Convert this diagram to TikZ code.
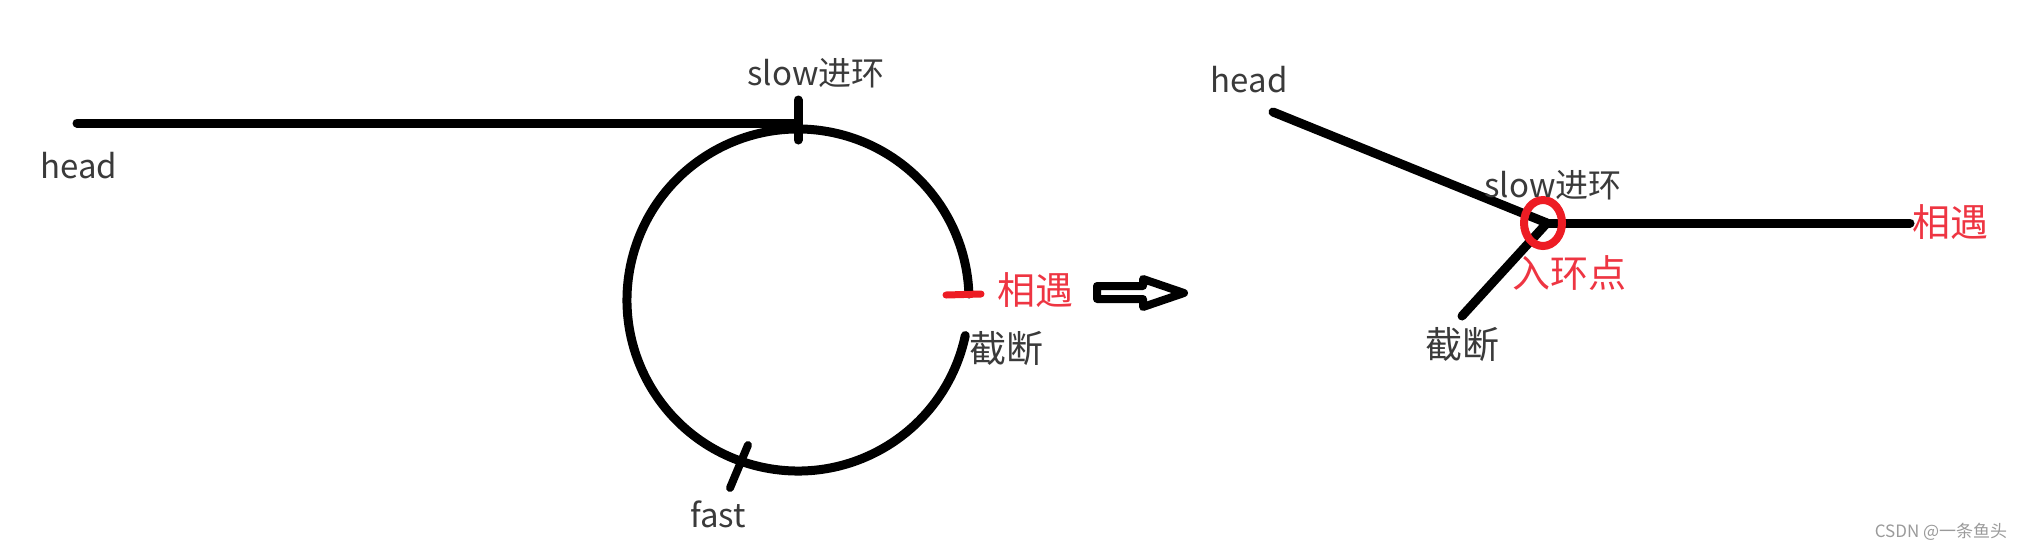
\documentclass[tikz,border=0pt]{standalone}
\usepackage{fontspec}
\setmainfont{Noto Sans CJK SC}
\definecolor{txtgray}{HTML}{3A3A3A}
\definecolor{redstroke}{HTML}{ED1C24}
\definecolor{redtext}{HTML}{EE3542}
\definecolor{wmgray}{HTML}{9A9A9A}
\begin{document}
\begin{tikzpicture}[x=1pt,y=-1pt,
  thick line/.style={line width=9pt, line cap=round},
  lbl/.style={font=\fontsize{33}{38}\selectfont, text=txtgray, inner sep=0pt},
  cjklbl/.style={font=\fontsize{37}{42}\selectfont, text=txtgray, inner sep=0pt},
  redlbl/.style={font=\fontsize{38}{44}\selectfont, text=redtext, inner sep=0pt},
  wm/.style={font=\fontsize{17}{20}\selectfont, text=wmgray, inner sep=0pt}]
\useasboundingbox (0,0) rectangle (2025,550);
% ---- left diagram ----
\coordinate (hL) at (77,123);
\coordinate (sL) at (798,123);
\coordinate (C) at (798,300);
\draw[thick line] (hL) -- (sL);
\draw[thick line] (C) ++(12:171) arc[start angle=12, end angle=358, radius=171];
\coordinate (t1a) at (798,100);
\coordinate (t1b) at (798,140);
\draw[thick line] (t1a) -- (t1b);
\coordinate (f1a) at (748,445);
\coordinate (f1b) at (730,488);
\draw[line width=8pt, line cap=round] (f1a) -- (f1b);
\coordinate (m1a) at (946,295);
\coordinate (m1b) at (981,294);
\draw[redstroke, line width=7pt, line cap=round] (m1a) -- (m1b);
\node[lbl] (headL) at (79,166) {head};
\node[lbl] (slowL) at (816,73) {slow进环};
\node[lbl] (fastL) at (718,514) {fast};
\node[cjklbl] (cutL) at (1006,348) {截断};
\node[redlbl] (meetL) at (1035,290) {相遇};
% ---- hollow arrow ----
\coordinate (a1) at (1097,286);
\coordinate (a2) at (1143,286);
\coordinate (a3) at (1143,279);
\coordinate (a4) at (1184,293);
\coordinate (a5) at (1143,307);
\coordinate (a6) at (1143,299);
\coordinate (a7) at (1097,299);
\draw[line width=8pt, line join=round] (a1) -- (a2) -- (a3) -- (a4) -- (a5) -- (a6) -- (a7) -- cycle;
% ---- right diagram ----
\coordinate (hR) at (1273,112);
\coordinate (J) at (1547,223);
\coordinate (mR) at (1910,223);
\coordinate (cR) at (1462,316);
\draw[thick line] (hR) -- (J);
\draw[thick line] (J) -- (mR);
\draw[thick line] (J) -- (cR);
\draw[redstroke, line width=8pt] (1543,223) ellipse[x radius=19, y radius=23];
\node[lbl] (headR) at (1249,80) {head};
\node[lbl] (slowR) at (1553,185) {slow进环};
\node[cjklbl] (cutR) at (1462,344) {截断};
\node[redlbl] (entry) at (1569,273) {入环点};
\node[redlbl] (meetR) at (1950,222) {相遇};
\node[wm] (mark) at (1941,532) {CSDN @一条鱼头};
\end{tikzpicture}
\end{document}
